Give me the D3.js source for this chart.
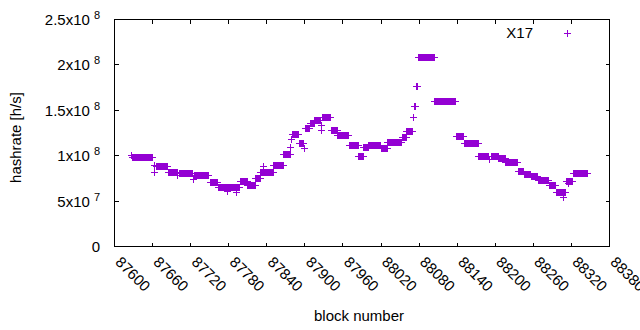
<!DOCTYPE html>
<html><head><meta charset="utf-8">
<script src="https://cdn.jsdelivr.net/npm/d3@7"></script>
<style>
body{margin:0;background:#fff}
text{font-family:"Liberation Sans",Arial,sans-serif;font-size:15px;fill:#000}
</style>
</head><body>
<svg id="chart" width="640" height="330"></svg>
<script>
// Runs of consecutive blocks sharing one hashrate value
const runStart = [87626,87628,87662,87663,87666,87685,87699,87702,87723,87725,87750,87763,87774,87778,87792,87797,87809,87822,87830,87834,87850,87866,87877,87878,87880,87890,87899,87900,87908,87915,87925,87926,87927,87941,87951,87969,87984,87992,88000,88020,88030,88053,88060,88070,88072,88075,88079,88104,88138,88150,88173,88190,88193,88205,88216,88236,88245,88256,88267,88284,88295,88307,88311,88315,88323];
const runEnd   = [87626,87659,87662,87663,87683,87698,87699,87722,87723,87748,87762,87773,87796,87778,87792,87808,87821,87829,87849,87834,87865,87876,87877,87878,87889,87897,87899,87907,87914,87924,87925,87926,87940,87950,87968,87983,87991,87999,88019,88029,88052,88059,88068,88070,88073,88076,88103,88137,88149,88172,88189,88190,88204,88215,88235,88244,88255,88266,88283,88294,88310,88307,88321,88315,88345];
const runValue = [100.5e6,98.3e6,81.8e6,89.5e6,89.0e6,81.8e6,79.1e6,81.1e6,73.9e6,78.2e6,70.6e6,65.6e6,65.0e6,61.0e6,60.1e6,72.2e6,67.5e6,74.9e6,82.2e6,88.5e6,90.3e6,102.4e6,109.8e6,118.2e6,123.7e6,114.1e6,108.3e6,130.3e6,135.8e6,139.4e6,133.6e6,128.1e6,142.4e6,128.8e6,123.3e6,112.3e6,99.4e6,109.4e6,111.6e6,108.3e6,115.2e6,121.1e6,127.3e6,142.7e6,154.5e6,176.5e6,209.2e6,159.7e6,122.2e6,114.5e6,100.0e6,96.9e6,100.0e6,97.2e6,93.6e6,83.7e6,80.2e6,77.1e6,73.0e6,67.2e6,59.8e6,54.6e6,71.9e6,69.4e6,80.4e6];

const xTicks = [87600,87660,87720,87780,87840,87900,87960,88020,88080,88140,88200,88260,88320,88380];
const yTicks = [0,5e7,1e8,1.5e8,2e8,2.5e8];
const yTickMantissa = ["0","5x10","1x10","1.5x10","2x10","2.5x10"];
const yTickExponent = ["","7","8","8","8","8"];
const seriesName = "X17";
const xTitle = "block number";
const yTitle = "hashrate [h/s]";

const color = "#9400d3";
const L = 114.5, R = 609.5, T = 19.5, B = 246.5;

const svg = d3.select("#chart");
svg.append("rect").attr("width",640).attr("height",330).attr("fill","#fff");

const x = d3.scaleLinear().domain([87600,88380]).range([L,R]);
const y = d3.scaleLinear().domain([0,2.5e8]).range([B,T]);

// points: one per block in each run
const points = [];
runStart.forEach((s,i)=>{
  for(let b=s;b<=runEnd[i];b++) points.push([b, runValue[i]]);
});

// ticks (mirrored on all sides, inward)
const tl = 4;
const g = svg.append("g").attr("stroke","#000").attr("stroke-width",1).attr("shape-rendering","crispEdges");
xTicks.forEach(t=>{
  const px = Math.round(x(t)-0.5)+0.5;
  g.append("line").attr("x1",px).attr("x2",px).attr("y1",B).attr("y2",B-tl);
  g.append("line").attr("x1",px).attr("x2",px).attr("y1",T).attr("y2",T+tl);
});
yTicks.forEach(t=>{
  const py = Math.round(y(t)-0.5)+0.5;
  g.append("line").attr("y1",py).attr("y2",py).attr("x1",L).attr("x2",L+tl);
  g.append("line").attr("y1",py).attr("y2",py).attr("x1",R).attr("x2",R-tl);
});

// x tick labels rotated
xTicks.forEach(t=>{
  svg.append("text")
    .attr("transform",`translate(${x(t)},263) rotate(45)`)
    .attr("text-anchor","start")
    .text(String(t));
});

// y tick labels with superscript
yTicks.forEach((t,i)=>{
  const tx = svg.append("text").attr("x",100).attr("y",y(t)+5.5).attr("text-anchor","end");
  tx.append("tspan").text(yTickMantissa[i]);
  if(yTickExponent[i]){
    tx.append("tspan").attr("dx",4).attr("dy",-6).style("font-size","11px").text(yTickExponent[i]);
  }
});

// titles
svg.append("text").attr("transform","translate(20.5,137.5) rotate(-90)")
  .attr("text-anchor","middle").text(yTitle);
svg.append("text").attr("x",359).attr("y",321).attr("text-anchor","middle").text(xTitle);

// data markers
const plus = "M-3.5,0H3.5M0,-3.5V3.5";
svg.append("g").attr("shape-rendering","crispEdges").selectAll("path").data(points).join("path")
  .attr("d",plus)
  .attr("transform",d=>`translate(${Math.round(x(d[0]))+0.5},${Math.round(y(d[1]))+0.5})`)
  .attr("fill","none").attr("stroke",color).attr("stroke-width",1);

// legend
svg.append("text").attr("x",533).attr("y",38.2).attr("text-anchor","end").text(seriesName);
svg.append("path").attr("d",plus).attr("transform","translate(567.5,33.5)")
  .attr("fill","none").attr("stroke",color).attr("stroke-width",1).attr("shape-rendering","crispEdges");

// border
svg.append("rect").attr("x",L).attr("y",T).attr("width",R-L).attr("height",B-T)
  .attr("fill","none").attr("stroke","#000").attr("stroke-width",1).attr("shape-rendering","crispEdges");
</script>
</body></html>
